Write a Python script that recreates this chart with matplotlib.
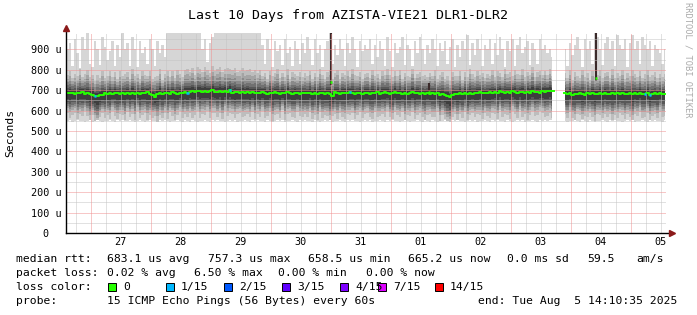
import numpy as np
import matplotlib
matplotlib.use("Agg")
import matplotlib.pyplot as plt
from matplotlib.patches import Rectangle

W, H = 697, 315
MONO = "DejaVu Sans Mono"

# ---- data (rtt in microseconds), one column per hour, hours since Jul 26 00:00
hours = np.arange(240) + 14.68
t_start, t_end = 14.18, 254.18
nan = np.nan

rtt_median = [
    686, 684, 688, 682, 687, 685, 690, 683, 686, 681, 676, 672, 670, 674, 678, 684, 680, 686, 682, 688, 684, 679, 686, 683,
    685, 680, 688, 683, 686, 681, 687, 684, 690, 682, 678, 666, 683, 688, 680, 686, 684, 681, 689, 685, 682, 688, 684, 690,
    688, 692, 695, 690, 694, 698, 692, 696, 690, 694, 699, 693, 691, 697, 692, 695, 690, 700, 688, 692, 690, 686, 691, 688,
    689, 685, 690, 686, 688, 684, 690, 687, 683, 688, 685, 690, 686, 682, 687, 684, 689, 685, 683, 688, 686, 682, 687, 684,
    684, 688, 683, 687, 682, 686, 684, 680, 686, 683, 672, 690, 685, 681, 686, 688, 684, 690, 686, 682, 688, 685, 683, 687,
    686, 682, 688, 684, 689, 683, 687, 692, 685, 681, 686, 690, 684, 688, 683, 686, 681, 685, 689, 684, 687, 682, 686, 683,
    688, 682, 686, 680, 684, 678, 682, 676, 672, 666, 678, 682, 680, 684, 679, 685, 681, 686, 683, 688, 684, 690, 685, 687,
    686, 690, 685, 692, 688, 694, 689, 686, 692, 688, 695, 690, 687, 693, 689, 686, 691, 688, 694, 690, 692, 688, 695, 692,
    694, 697, 695, nan, nan, nan, nan, 684, 680, 686, 678, 683, 680, 685, 681, 678, 684, 680, 686, 682, 679, 684, 681, 686,
    683, 679, 685, 681, 684, 680, 686, 682, 679, 684, 680, 686, 682, 687, 683, 680, 685, 678, 682, 684, 681, 686, 683, 680,
]

rtt_min = [
    548, 552, 545, 550, 556, 547, 551, 544, 549, 553, 546, 550, 555, 548, 543, 551, 547, 554, 549, 545, 552, 548, 556, 550,
    547, 553, 549, 545, 551, 556, 548, 544, 550, 553, 547, 551, 546, 552, 549, 555, 548, 544, 551, 547, 553, 549, 546, 552,
    550, 546, 553, 548, 544, 551, 547, 555, 549, 545, 552, 548, 554, 547, 551, 545, 550, 556, 548, 552, 546, 551, 547, 553,
    549, 545, 552, 548, 555, 547, 551, 546, 553, 549, 544, 550, 556, 548, 552, 546, 551, 547, 554, 549, 545, 552, 548, 553,
    547, 551, 546, 553, 549, 544, 550, 556, 548, 552, 546, 551, 547, 554, 549, 545, 552, 548, 553, 547, 551, 546, 550, 555,
    548, 552, 546, 551, 547, 554, 549, 545, 552, 548, 553, 547, 551, 546, 550, 555, 548, 544, 551, 547, 553, 549, 546, 552,
    550, 546, 553, 548, 544, 551, 547, 555, 549, 545, 552, 548, 554, 547, 551, 545, 550, 556, 548, 552, 546, 551, 547, 553,
    549, 545, 552, 548, 555, 547, 551, 546, 553, 549, 544, 550, 556, 548, 552, 546, 551, 547, 554, 549, 545, 552, 548, 553,
    550, 554, 552, nan, nan, nan, nan, 548, 544, 551, 547, 553, 549, 546, 552, 550, 546, 553, 548, 544, 551, 547, 555, 549,
    545, 552, 548, 554, 547, 551, 545, 550, 556, 548, 552, 546, 551, 547, 553, 549, 545, 552, 548, 555, 547, 551, 546, 553,
]

rtt_max = [
    900, 930, 820, 950, 880, 810, 960, 900, 980, 830, 815, 940, 900, 825, 960, 910, 850, 890, 940, 820, 920, 860, 980, 900,
    930, 820, 960, 900, 815, 940, 880, 910, 830, 950, 900, 820, 940, 880, 920, 860, 990, 990, 990, 990, 990, 990, 990, 990,
    990, 990, 990, 990, 990, 990, 900, 950, 840, 930, 960, 990, 990, 990, 990, 990, 990, 990, 990, 990, 990, 990, 990, 990,
    990, 990, 990, 990, 990, 990, 920, 830, 950, 900, 815, 940, 890, 920, 825, 950, 880, 910, 820, 940, 900, 830, 930, 880,
    960, 900, 825, 950, 880, 920, 815, 900, 940, 990, 830, 920, 870, 950, 900, 820, 930, 880, 960, 900, 815, 940, 890, 920,
    900, 950, 830, 920, 860, 940, 900, 820, 960, 890, 815, 930, 880, 910, 960, 825, 920, 900, 820, 940, 880, 960, 900, 830,
    920, 880, 950, 900, 820, 930, 890, 940, 830, 910, 950, 815, 920, 860, 940, 900, 970, 825, 930, 870, 950, 900, 820, 920,
    900, 950, 830, 930, 870, 960, 900, 815, 940, 890, 950, 820, 920, 960, 880, 910, 940, 825, 930, 900, 830, 950, 900, 920,
    880, 900, 860, nan, nan, nan, nan, 900, 820, 930, 870, 920, 960, 900, 815, 950, 900, 940, 830, 990, 960, 900, 825, 930,
    960, 900, 940, 820, 970, 920, 900, 950, 815, 930, 970, 900, 940, 830, 960, 920, 900, 940, 820, 920, 900, 880, 830, 900,
]

# how wide the ping cloud is above / below the median in each hour (1 = typical)
spread_up = [
    1.0, 1.2, 0.8, 1.1, 0.9, 1.3, 0.85, 1.05, 1.25, 0.9, 1.1, 0.8, 1.15, 0.95, 1.3, 0.85, 1.0, 1.2, 0.9, 1.1, 0.8, 1.25, 0.95, 1.05,
    1.15, 0.85, 1.3, 0.95, 1.05, 0.8, 1.2, 1.0, 0.9, 1.25, 0.85, 1.1, 0.95, 1.3, 0.8, 1.05, 1.2, 0.9, 1.15, 0.85, 1.3, 1.0, 0.9, 1.2,
    1.3, 1.1, 1.25, 0.95, 1.3, 1.15, 1.05, 1.3, 1.2, 1.0, 1.3, 1.1, 1.25, 1.3, 1.05, 1.2, 1.3, 1.15, 1.25, 1.3, 1.1, 1.2, 1.3, 1.15,
    1.2, 1.3, 1.1, 1.25, 1.05, 1.3, 0.9, 1.1, 0.8, 1.2, 0.95, 1.05, 1.3, 0.85, 1.1, 0.9, 1.25, 0.8, 1.15, 1.0, 0.9, 1.2, 0.85, 1.1,
    0.95, 1.2, 0.8, 1.1, 0.9, 1.3, 1.0, 0.85, 1.15, 1.3, 0.9, 1.05, 1.25, 0.8, 1.1, 0.95, 1.2, 0.85, 1.3, 1.0, 0.9, 1.15, 0.8, 1.05,
    1.1, 0.85, 1.25, 0.95, 1.0, 0.8, 1.2, 0.9, 1.3, 1.05, 0.85, 1.15, 0.95, 1.25, 0.8, 1.1, 1.0, 0.9, 1.3, 0.85, 1.05, 1.2, 0.9, 1.0,
    0.85, 1.15, 0.95, 1.3, 0.8, 1.05, 1.2, 0.9, 1.1, 0.85, 1.25, 0.95, 1.0, 1.2, 0.8, 1.15, 0.9, 1.3, 1.05, 0.85, 1.2, 0.95, 1.1, 0.8,
    1.05, 0.9, 1.25, 0.8, 1.15, 1.0, 0.85, 1.3, 0.95, 1.1, 0.8, 1.2, 1.0, 0.9, 1.25, 0.85, 1.1, 0.95, 1.3, 0.8, 1.05, 1.2, 0.9, 1.15,
    0.9, 1.2, 0.85, 1.0, 1.0, 1.0, 1.0, 1.1, 0.9, 1.25, 0.8, 1.15, 1.0, 0.85, 1.3, 0.95, 1.1, 0.8, 1.2, 0.9, 1.05, 1.25, 0.85, 1.1,
    1.2, 0.9, 1.3, 0.85, 1.1, 1.0, 1.25, 0.8, 1.15, 0.95, 1.3, 1.05, 0.9, 1.2, 0.85, 1.1, 1.25, 0.95, 1.0, 1.15, 0.85, 1.05, 0.9, 1.1,
]

spread_dn = [
    0.9, 1.1, 1.0, 0.85, 1.2, 0.95, 1.1, 0.8, 1.05, 1.25, 0.9, 1.15, 1.3, 1.0, 0.85, 1.1, 0.95, 1.2, 0.8, 1.05, 1.15, 0.9, 1.0, 1.2,
    0.85, 1.05, 0.95, 1.2, 0.8, 1.1, 1.0, 0.9, 1.25, 0.95, 1.05, 0.85, 1.3, 1.0, 1.1, 0.9, 1.15, 0.8, 1.05, 1.2, 0.95, 0.85, 1.1, 1.0,
    1.1, 0.95, 1.2, 1.05, 0.9, 1.25, 1.0, 1.1, 0.85, 1.2, 1.05, 0.95, 1.15, 1.0, 1.25, 0.9, 1.1, 1.05, 0.95, 1.2, 1.0, 0.9, 1.15, 1.05,
    1.0, 1.1, 0.9, 1.2, 0.95, 1.05, 0.85, 1.15, 1.0, 0.9, 1.25, 1.05, 0.95, 1.1, 0.8, 1.2, 1.0, 0.9, 1.05, 1.15, 0.85, 1.0, 1.1, 0.95,
    1.05, 0.9, 1.15, 1.0, 1.2, 0.85, 1.1, 0.95, 1.05, 1.25, 0.9, 1.0, 1.15, 0.85, 1.1, 1.2, 0.95, 1.05, 0.9, 1.15, 1.0, 0.85, 1.1, 0.95,
    0.9, 1.05, 1.2, 0.85, 1.1, 1.0, 0.95, 1.15, 0.8, 1.05, 1.2, 0.9, 1.0, 1.1, 0.85, 1.25, 0.95, 1.05, 0.9, 1.15, 1.0, 0.85, 1.1, 1.2,
    1.0, 0.9, 1.1, 1.05, 0.85, 1.2, 0.95, 1.1, 1.25, 1.3, 1.0, 0.9, 1.15, 0.95, 1.05, 0.85, 1.2, 1.0, 0.9, 1.1, 0.95, 1.05, 1.15, 0.9,
    1.05, 1.15, 0.9, 1.0, 1.2, 0.85, 1.1, 0.95, 1.05, 1.2, 0.9, 1.0, 1.15, 0.85, 1.1, 0.95, 1.25, 1.0, 0.9, 1.1, 1.05, 0.85, 1.0, 1.15,
    1.1, 1.0, 1.2, 1.0, 1.0, 1.0, 1.0, 0.95, 1.1, 0.85, 1.05, 1.2, 0.9, 1.0, 1.15, 0.95, 1.05, 0.85, 1.1, 1.25, 0.9, 1.0, 1.1, 0.95,
    1.05, 0.9, 1.2, 0.95, 1.1, 0.85, 1.0, 1.15, 0.9, 1.05, 1.2, 0.95, 1.0, 0.85, 1.1, 1.05, 0.9, 1.15, 1.0, 0.95, 1.1, 0.85, 1.05, 1.0,
]

# typical sorted pings 2..7 below and 9..14 above the median
ping_below = [-108, -83, -71, -59, -47, -32]
ping_above = [16, 25, 38, 53, 70, 90]
smoke_colors = ["#d6d6d6", "#bdbdbd", "#a4a4a4", "#8a8a8a", "#717171", "#585858", "#3e3e3e"]

# hour columns with 1/15 loss
loss_cols = [11, 48, 65, 113, 231, 233]

# short bursts of high rtt
spike_hours = [120.2, 159.5, 226.2]
spike_median = [740, 690, 758]
spike_top = [990, 735, 990]

day_labels = ["27", "28", "29", "30", "31", "01", "02", "03", "04", "05"]
day_midnights = [24, 48, 72, 96, 120, 144, 168, 192, 216, 240]

loss_legend = ["0", "1/15", "2/15", "3/15", "4/15", "7/15", "14/15"]
loss_legend_colors = ["#26ff00", "#00b8ff", "#0059ff", "#5e00ff", "#7e00ff", "#dd00ff", "#ff0000"]

rtt_stats = ["683.1 us avg", "757.3 us max", "658.5 us min", "665.2 us now", "0.0 ms sd", "59.5", "am/s"]
loss_stats = ["0.02 % avg", "6.50 % max", "0.00 % min", "0.00 % now"]

# ---- figure
fig = plt.figure(figsize=(W / 100, H / 100), dpi=100)
ax = fig.add_axes([66 / W, (H - 233) / H, 600 / W, 200 / H])
ax.set_xlim(t_start, t_end)
ax.set_ylim(0, 980)

med = np.array(rtt_median, dtype=float)
su = np.array(spread_up)
sd = np.array(spread_dn)
pings = [np.array(rtt_min, dtype=float)]
pings += [med + off * sd for off in ping_below]
pings += [med]
pings += [med + off * su for off in ping_above]
pings += [np.array(rtt_max, dtype=float)]
pings = np.maximum.accumulate(np.vstack(pings), axis=0)

for j, col in enumerate(smoke_colors):
    ax.fill_between(hours, pings[j], pings[14 - j], step="mid", color=col,
                    linewidth=0, zorder=1)

for sh, sm, st in zip(spike_hours, spike_median, spike_top):
    ax.vlines(sh, sm - 15, st, color="#3a2a2a", linewidth=1.5, zorder=2)

# grid on top of smoke
dot = (0, (1, 1))
for hh in np.arange(18, 254, 6):
    if hh % 24:
        ax.axvline(hh, color="#c4c4c4", lw=0.72, ls=dot, zorder=3)
for v in range(50, 980, 100):
    ax.axhline(v, color="#c4c4c4", lw=0.72, ls=dot, zorder=3)
for hh in day_midnights:
    ax.axvline(hh, color="#f09090", lw=0.72, ls=dot, zorder=3)
for v in range(100, 980, 100):
    ax.axhline(v, color="#f09090", lw=0.72, ls=dot, zorder=3)

ax.step(hours, med, where="mid", color="#26ff00", lw=1.4, zorder=4)
for i in loss_cols:
    ax.hlines(med[i], hours[i] - 0.5, hours[i] + 0.5, color="#00b8ff", lw=1.8, zorder=5)
for sh, sm in zip(spike_hours, spike_median):
    ax.hlines(sm, sh - 0.4, sh + 0.4, color="#26ff00", lw=1.8, zorder=5)

for s in ax.spines.values():
    s.set_visible(False)
ax.set_xticks([d + 12 for d in day_midnights])
ax.set_xticklabels(day_labels, fontfamily=MONO, fontsize=7.3)
ax.set_yticks(range(0, 1000, 100))
ax.set_yticklabels(["0  "] + ["%d u" % v for v in range(100, 1000, 100)],
                   fontfamily=MONO, fontsize=7.3)
ax.tick_params(length=0, pad=3)

# axes with arrows
ax.plot([0, 0], [0, 1.025], transform=ax.transAxes, color="#000000", lw=1, clip_on=False, zorder=6)
ax.plot([0, 1.01], [0, 0], transform=ax.transAxes, color="#000000", lw=1, clip_on=False, zorder=6)
ax.plot([0], [1.025], marker="^", ms=5, color="#8b1a1a", transform=ax.transAxes, clip_on=False, zorder=7)
ax.plot([1.01], [0], marker=">", ms=5, color="#8b1a1a", transform=ax.transAxes, clip_on=False, zorder=7)

# ---- texts
def ftext(x, y, s, **kw):
    kw.setdefault("fontfamily", MONO)
    kw.setdefault("fontsize", 8.2)
    kw.setdefault("va", "center")
    fig.text(x / W, 1 - y / H, s, **kw)

ftext(348, 15, "Last 10 Days from AZISTA-VIE21 DLR1-DLR2", ha="center", fontsize=9.5)
ftext(10, 133, "Seconds", ha="center", rotation=90)
ftext(688, 60, "RRDTOOL / TOBI OETIKER", ha="center", rotation=-90, fontsize=6.3, color="#aaaaaa")

ftext(16, 259, "median rtt:")
for s, x in zip(rtt_stats, [107, 208, 308, 408, 507, 587, 636]):
    ftext(x, 259, s)
ftext(16, 273, "packet loss:")
for s, x in zip(loss_stats, [107, 194, 278, 366]):
    ftext(x, 273, s)
ftext(16, 287, "loss color:")
for k, (s, c) in enumerate(zip(loss_legend, loss_legend_colors)):
    bx = 108 + 58 * k if k < 5 else [378, 435][k - 5]
    fig.add_artist(Rectangle((bx / W, 1 - 291 / H), 8 / W, 8 / H, facecolor=c,
                             edgecolor="black", linewidth=0.7, transform=fig.transFigure))
    ftext(bx + 15, 287, s)
ftext(16, 301, "probe:")
ftext(107, 301, "15 ICMP Echo Pings (56 Bytes) every 60s")
ftext(478, 301, "end: Tue Aug  5 14:10:35 2025")

fig.savefig("out.png", dpi=100)
